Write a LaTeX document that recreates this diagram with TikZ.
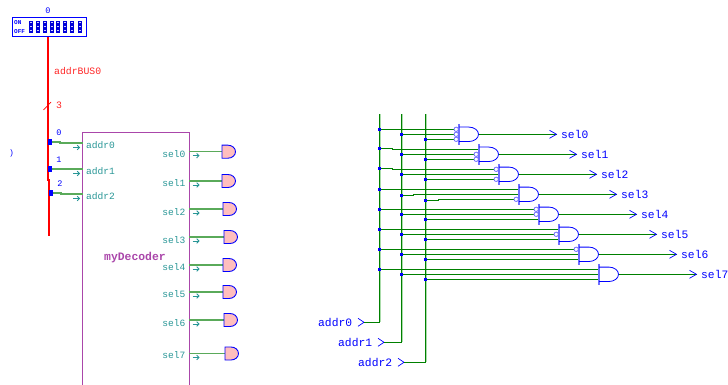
\documentclass[tikz,border=0pt]{standalone}
\usepackage{fontspec}
\setmonofont{Liberation Mono}
\definecolor{wgreen}{RGB}{0,128,0}
\definecolor{pgreen}{RGB}{170,220,170}
\definecolor{mgreen}{RGB}{90,170,90}
\definecolor{wblue}{RGB}{0,0,255}
\definecolor{lblue}{RGB}{110,110,255}
\definecolor{teal1}{RGB}{40,150,150}
\definecolor{purp}{RGB}{170,70,170}
\definecolor{pink1}{RGB}{255,190,190}
\tikzset{
 wire/.style={draw=wgreen,line width=0.9pt},
 mwire/.style={draw=mgreen,line width=1.2pt},
 dotbox/.style={fill=wblue,inner sep=0pt,minimum size=3pt,draw=none,rectangle},
 lab/.style={inner sep=0pt,text=wblue,font=\ttfamily\fontsize{11.3}{12}\selectfont,anchor=west},
 tlab/.style={inner sep=0pt,text=teal1,font=\ttfamily\fontsize{9.6}{10}\selectfont},
 nlab/.style={inner sep=0pt,text=wblue,font=\ttfamily\fontsize{8.5}{10}\selectfont},
 redlab/.style={inner sep=0pt,text=red!85!white,font=\ttfamily\fontsize{9.8}{10}\selectfont},
 gbody/.style={draw=wblue,line width=0.8pt},
 gbar/.style={draw=lblue,line width=1.2pt},
 bub/.style={circle,draw=lblue,fill=white,line width=0.8pt,inner sep=0pt,minimum size=4.4pt},
 smarrow/.style={draw=teal1,line width=0.9pt,-{Straight Barb[length=2.2pt,width=4.5pt,line width=0.9pt]}},
}
\usetikzlibrary{arrows.meta}
\begin{document}
\begin{tikzpicture}[x=1pt,y=-1pt]
\useasboundingbox (0,0) rectangle (728,385);
% DIP switch
\node[nlab] (diplab) at (48,11) {0};
\node[draw=wblue,line width=1pt,fill=white,minimum width=74.5pt,minimum height=18.5pt,inner sep=0pt,anchor=north west] (dip) at (11.5,17.5) {};
\node[inner sep=0pt,text=wblue,font=\ttfamily\bfseries\fontsize{6}{6}\selectfont,anchor=west] (on) at (14,22.5) {ON};
\node[inner sep=0pt,text=wblue,font=\ttfamily\bfseries\fontsize{6}{6}\selectfont,anchor=west] (off) at (14,31.5) {OFF};
\foreach \x in {31,37.8,44.7,51.6,58.4,65.3,72.2,80}{
  \fill[wblue!85!black] (\x-2,20.7) rectangle (\x+2,32.7);
  \foreach \y in {22.6,26.6,30.6}{\fill[white!80!wblue] (\x-1,\y-0.8) rectangle (\x+1,\y+0.8);}
}
% red bus
\coordinate (busend) at (49,236);
\coordinate (busjog) at (48,180);
\coordinate (busjogb) at (49,180);
\draw[red,line width=2.6pt] (dip.south -| 48,36) -- (busjog) -- (busjogb) -- (busend);
\node[redlab,anchor=west] (buslab) at (54,71) {addrBUS0};
\coordinate (sl1) at (43.5,110);
\coordinate (sl2) at (51,102);
\draw[red,line width=0.7pt] (sl1) -- (sl2);
\node[redlab,anchor=west] (buswidth) at (56,105) {3};
% decoder box
\draw[purp,line width=1pt] (82.5,390) -- (82.5,132.5) -- (189,132.5) -- (189,390);
\node[inner sep=0pt,text=purp,font=\ttfamily\bfseries\fontsize{11.4}{12}\selectfont,anchor=west] (dec) at (104,258) {myDecoder};
\node[inner sep=0pt,text=wblue,font=\ttfamily\fontsize{8}{10}\selectfont] (paren) at (11.5,153) {)};
% taps
\foreach \i/\dy/\ly/\dx/\jy/\jx/\ny in {0/142/145/50/143/60/133,1/169/171/50/169/60/160,2/193/196/51/194/61/184}{
  \coordinate (tj\i) at (\jx,\dy);
  \coordinate (tk\i) at (\jx,\jy);
  \coordinate (tp\i) at (82.5,\jy);
  \coordinate (ts\i) at (\dx,\dy);
  \draw[mwire] (ts\i) -- (tj\i) -- (tk\i) -- (tp\i);
  \node[dotbox,minimum width=3.5pt,minimum height=6pt] (t\i) at (\dx,\dy) {};
  \node[nlab] (tn\i) at (\dx+9,\ny) {\i};
  \node[tlab,anchor=west] (al\i) at (86,\ly) {addr\i};
  \coordinate (as\i) at (73,\jy+4.5);
  \coordinate (ae\i) at (80,\jy+4.5);
  \draw[smarrow] (as\i) -- (ae\i);
}
% decoder outputs
\foreach \i/\y/\ly/\gx in {0/151.7/154/222,1/181/183/222,2/209/212/223,3/237/240/224,4/265/267/223,5/292/294/223,6/320/323/224,7/353.5/355/225}{
  \coordinate (op\i) at (189,\y);
  \coordinate (ob\i) at (\gx,\y);
  \draw[mwire] (op\i) -- (ob\i);
  \fill[pink1] (\gx,\y-6.5) -- ++(6,0) arc[start angle=-90,end angle=90,x radius=7.5,y radius=6.5] -- ++(-6,0) -- cycle;
  \draw[wblue,line width=0.9pt] (\gx,\y-6.5) -- ++(6,0) arc[start angle=-90,end angle=90,x radius=7.5,y radius=6.5] -- ++(-6,0) -- cycle;
  \node[tlab,anchor=east] (sl\i) at (185.5,\ly) {sel\i};
  \coordinate (ss\i) at (192.5,\y+4);
  \coordinate (se\i) at (199.5,\y+4);
  \draw[smarrow] (ss\i) -- (se\i);
}
% vertical buses
\coordinate (b0t) at (379.6,114); \coordinate (b0b) at (379.6,322.3);
\coordinate (b1t) at (401.7,114); \coordinate (b1b) at (401.7,342.3);
\coordinate (b2t) at (425.7,114); \coordinate (b2b) at (425.7,362.3);
\draw[pgreen,line width=1pt] ([xshift=0.8pt]b0t) -- ([xshift=0.8pt]b0b);
\draw[pgreen,line width=1pt] ([xshift=0.8pt]b1t) -- ([xshift=0.8pt]b1b);
\draw[pgreen,line width=1pt] ([xshift=0.8pt]b2t) -- ([xshift=0.8pt]b2b);
% inputs
\foreach \i/\x/\y in {0/318/322.3,1/338/342.3,2/358/362.3}{
  \node[lab] (in\i) at (\x,\y) {addr\i};
  \coordinate (ia\i) at (\x+40,\y-4);
  \coordinate (ib\i) at (\x+46,\y);
  \coordinate (ic\i) at (\x+40,\y+4);
  \draw[wblue,line width=0.7pt] (ia\i) -- (ib\i) -- (ic\i);
}
\draw[wire] (ib0) -- (b0b) -- (b0t);
\draw[wire] (ib1) -- (b1b) -- (b1t);
\draw[wire] (ib2) -- (b2b) -- (b2t);
% gates
\foreach \k/\ad/\bd/\cd/\na/\nb/\nc in {
  0/0/0/0/1/1/1,
  1/-1/0/0/0/1/1,
  2/-1/0/0/1/0/1,
  3/0/1/1/0/0/1,
  4/0/0/0/1/1/0,
  5/0/0/0/0/1/0,
  6/0/0/0/1/0/0,
  7/0/0/0/0/0/0}{
  \pgfmathsetmacro{\bx}{459+20*\k}
  \pgfmathsetmacro{\cy}{134.3+20*\k}
  \coordinate (pa\k) at (\bx,\cy-5);
  \coordinate (pb\k) at (\bx,\cy);
  \coordinate (pc\k) at (\bx,\cy+5);
  \coordinate (ja\k) at (392,\cy-5+\ad);
  \coordinate (jb\k) at (413,\cy+\bd);
  \coordinate (jc\k) at (438,\cy+5+\cd);
  \coordinate (sa\k) at (379.6,\cy-5+\ad);
  \coordinate (sb\k) at (401.7,\cy+\bd);
  \coordinate (sc\k) at (425.7,\cy+5+\cd);
  \draw[wire] (sa\k) -- (ja\k) -- (ja\k |- pa\k) -- (pa\k);
  \draw[wire] (sb\k) -- (jb\k) -- (jb\k |- pb\k) -- (pb\k);
  \draw[wire] (sc\k) -- (jc\k) -- (jc\k |- pc\k) -- (pc\k);
  \node[dotbox] (a\k) at (sa\k) {};
  \node[dotbox] (b\k) at (sb\k) {};
  \node[dotbox] (c\k) at (sc\k) {};
  \ifnum\na=1 \node[bub] (na\k) at (\bx-2.8,\cy-5) {}; \fi
  \ifnum\nb=1 \node[bub] (nb\k) at (\bx-2.8,\cy) {}; \fi
  \ifnum\nc=1 \node[bub] (nc\k) at (\bx-2.8,\cy+5) {}; \fi
  \draw[gbar] (\bx,\cy-10.5) -- (\bx,\cy+11);
  \draw[gbody] (\bx,\cy-7.2) -- ++(10,0) arc[start angle=-90,end angle=90,x radius=9.5,y radius=7.2] -- ++(-10,0);
  \coordinate (g\k) at (\bx+19.5,\cy);
  \coordinate (oe\k) at (\bx+97.5,\cy);
  \draw[wire] (g\k) -- (oe\k);
  \coordinate (ta\k) at (\bx+90.5,\cy-4);
  \coordinate (tb\k) at (\bx+90.5,\cy+4);
  \draw[wblue,line width=0.7pt] (ta\k) -- (oe\k) -- (tb\k);
  \node[lab] (o\k) at (\bx+102,\cy) {sel\k};
}
\end{tikzpicture}
\end{document}
